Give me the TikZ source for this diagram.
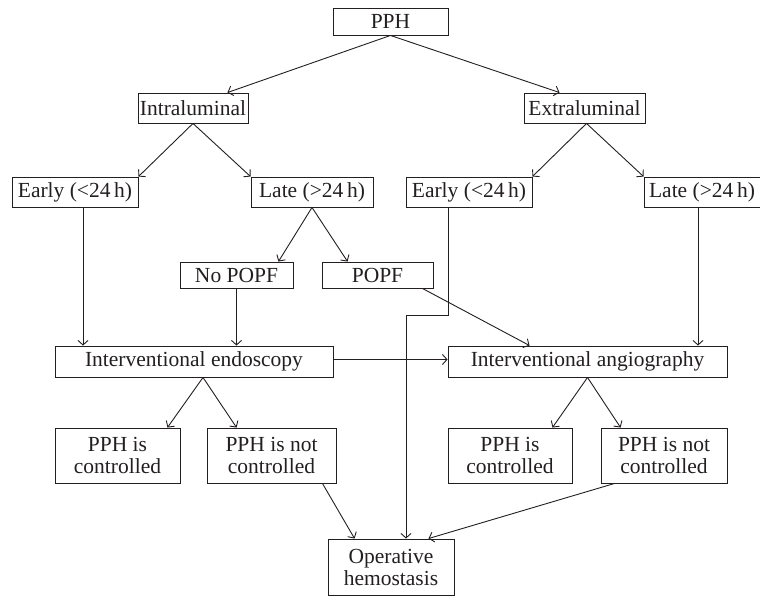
\documentclass[tikz,border=0pt]{standalone}
\usepackage{fontspec}
\setmainfont{Liberation Serif}
\usetikzlibrary{arrows.meta}
\definecolor{ink}{HTML}{231F20}
\begin{document}
\begin{tikzpicture}[x=1pt,y=-1pt,
  box/.style={draw=ink,line width=0.9pt,inner sep=0pt,anchor=center,align=center,
    font=\fontsize{21.5}{22}\selectfont,text=ink},
  arr/.style={draw=ink,line width=0.9pt,-{Straight Barb[length=4.5pt,width=10pt,line width=0.9pt]}}]
\useasboundingbox (0,0) rectangle (760,597);
% nodes (centre, width, height)
\node[box,minimum width=115pt,minimum height=27pt] (pph) at (390.5,21.5) {PPH};
\node[box,minimum width=110pt,minimum height=30pt] (intra) at (193,108) {Intraluminal};
\node[box,minimum width=121pt,minimum height=30pt] (extra) at (584.5,108) {Extraluminal};
\node[box,minimum width=126pt,minimum height=30pt] (early1) at (75,192) {Early (<24\,h)};
\node[box,minimum width=122pt,minimum height=30pt] (late1) at (312,192) {Late (>24\,h)};
\node[box,minimum width=126pt,minimum height=30pt] (early2) at (469,192) {Early (<24\,h)};
\node[box,minimum width=116pt,minimum height=30pt] (late2) at (702,192) {Late (>24\,h)};
\node[box,minimum width=113pt,minimum height=26pt] (nopopf) at (236.5,275) {No POPF};
\node[box,minimum width=111pt,minimum height=26pt] (popf) at (377.5,275) {POPF};
\node[box,minimum width=278pt,minimum height=31pt] (ie) at (194,361.5) {Interventional endoscopy};
\node[box,minimum width=279pt,minimum height=31pt] (ia) at (587.5,361.5) {Interventional angiography};
\node[box,minimum width=125pt,minimum height=55pt] (c1) at (117.5,455.5) {PPH is\\controlled};
\node[box,minimum width=129pt,minimum height=55pt] (nc1) at (271.5,455.5) {PPH is not\\controlled};
\node[box,minimum width=124pt,minimum height=55pt] (c2) at (510,455.5) {PPH is\\controlled};
\node[box,minimum width=126pt,minimum height=55pt] (nc2) at (664,455.5) {PPH is not\\controlled};
\node[box,minimum width=126pt,minimum height=56pt] (op) at (391,567) {Operative\\hemostasis};
% helper coordinates
\coordinate (e1b) at ([xshift=8pt]early1.south);
\coordinate (l2b) at ([xshift=-4pt]late2.south);
\coordinate (e2b) at ([xshift=-21pt]early2.south);
\coordinate (e2m) at ([yshift=-108pt]e2b);
\coordinate (opt) at ([xshift=15pt]op.north);
% connectors
\draw[arr] (pph.south) -- ([xshift=-21pt]intra.north east);
\draw[arr] (pph.south) -- ([xshift=36pt]extra.north west);
\draw[arr] (intra.south) -- (early1.north east);
\draw[arr] (intra.south) -- (late1.north west);
\draw[arr] ([xshift=2pt]extra.south) -- (early2.north east);
\draw[arr] ([xshift=2pt]extra.south) -- (late2.north west);
\draw[arr] (late1.south) -- ([xshift=-15pt]nopopf.north east);
\draw[arr] (late1.south) -- ([xshift=26pt]popf.north west);
\draw[arr] (e1b) -- (e1b |- ie.north);
\draw[arr] (nopopf.south) -- (nopopf.south |- ie.north);
\draw[arr] (l2b) -- (l2b |- ia.north);
\draw[arr] ([xshift=-11pt]popf.south east) -- ([xshift=82pt]ia.north west);
\draw[arr] ([yshift=2pt]ie.east) -- ([yshift=2pt]ia.west);
\draw[arr] (e2b) -- (e2m) -- (e2m -| opt) -- (opt);
\draw[arr] ([xshift=9pt]ie.south) -- ([xshift=-13pt]c1.north east);
\draw[arr] ([xshift=9pt]ie.south) -- ([xshift=30pt]nc1.north west);
\draw[arr] (ia.south) -- ([xshift=-20pt]c2.north east);
\draw[arr] (ia.south) -- ([xshift=20pt]nc2.north west);
\draw[arr] ([xshift=-14pt]nc1.south east) -- ([xshift=27pt]op.north west);
\draw[arr] ([xshift=14pt]nc2.south west) -- ([xshift=-26pt]op.north east);
\end{tikzpicture}
\end{document}
